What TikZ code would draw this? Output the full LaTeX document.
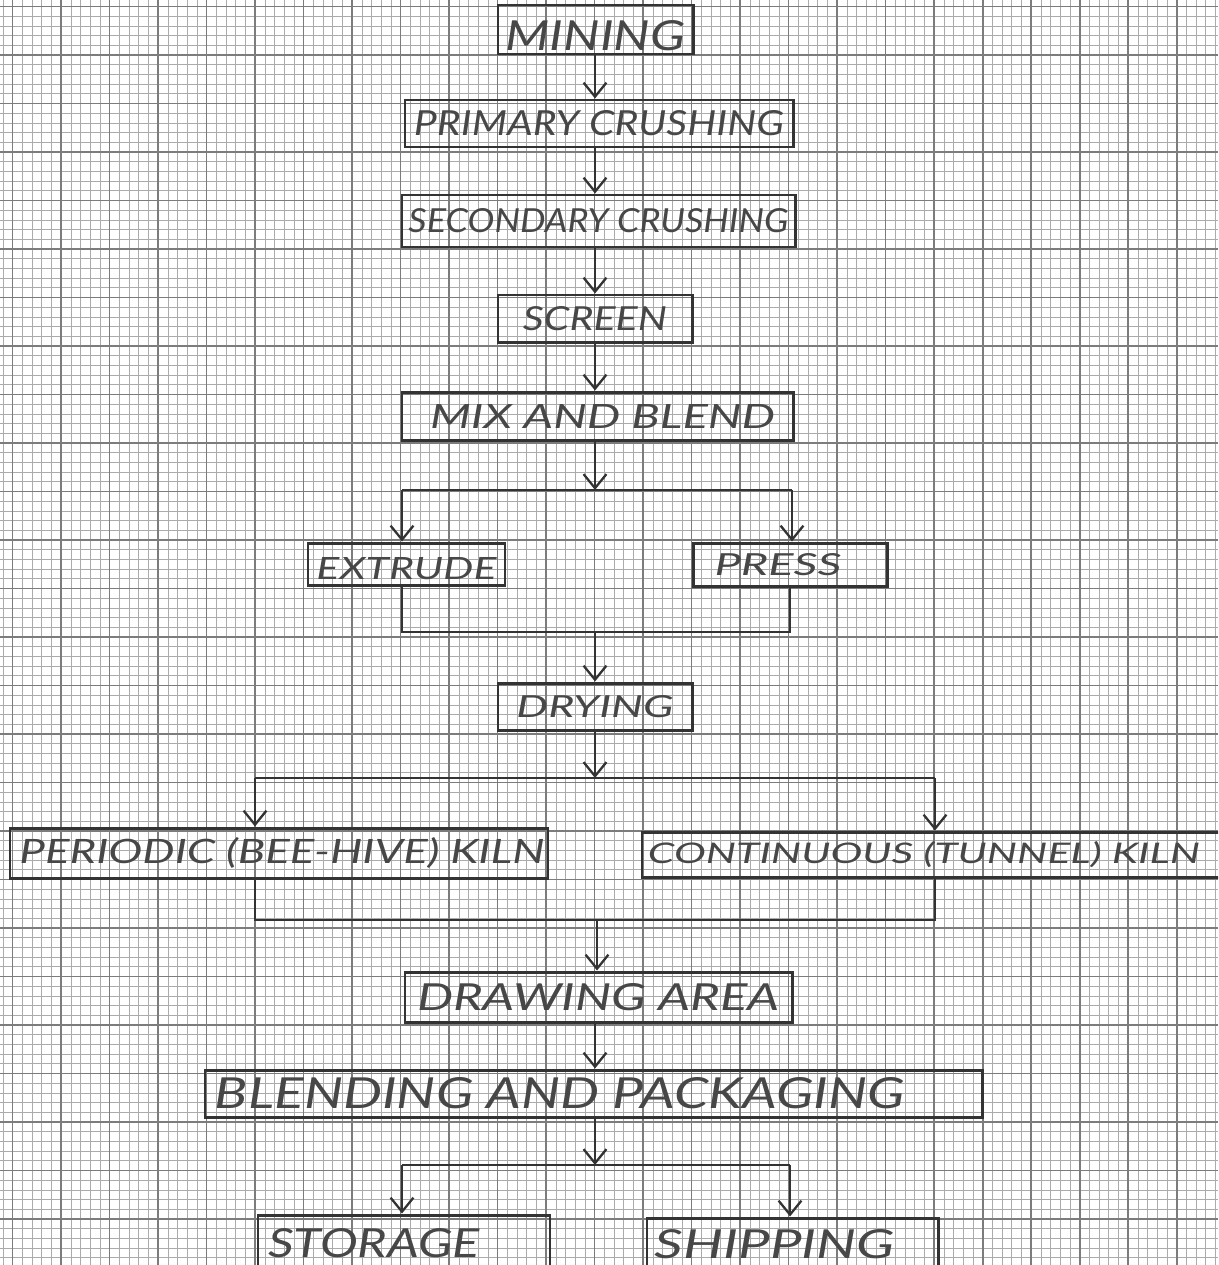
\documentclass[tikz,border=0pt]{standalone}
\usepackage{fontspec}
\usepackage{graphicx}
\usepackage{xcolor}
\usepackage{tikz}
\usetikzlibrary{arrows.meta, positioning, calc}
\setmainfont{Lato}

\definecolor{pencil}{HTML}{333333}
\definecolor{gridmajor}{HTML}{7C7C7C}
\definecolor{gridminor}{HTML}{ABABAB}

% one pixel of the sheet
\newlength\pxu
\setlength\pxu{0.02cm}
% hand lettering: width, cap height (px), text
\newcommand{\hand}[3]{\resizebox{#1\pxu}{#2\pxu}{\itshape #3}}

\tikzset{
    box/.style 2 args={draw=pencil, line width=1.7pt, inner sep=0pt, text=pencil!90,
        minimum width=#1*\pxu, minimum height=#2*\pxu},
    flow/.style={draw=pencil, line width=1.3pt, -{Straight Barb[length=8pt, width=13pt]}},
    link/.style={draw=pencil, line width=1.3pt},
    minor/.style={gridminor, line width=0.4pt},
    major/.style={gridmajor, line width=0.9pt},
}

\begin{document}
\begin{tikzpicture}[x=0.02cm, y=-0.02cm]
    \useasboundingbox (0,0) rectangle (1218,1265);
    \clip (0,0) rectangle (1218,1265);
    \fill[white] (0,0) rectangle (1218,1265);

    % graph paper
    \foreach \i in {0,...,125} {
        \draw[minor] ({3.0+9.7*\i},0) -- ({3.0+9.7*\i},1265);
    }
    \foreach \i in {0,...,130} {
        \draw[minor] (0,{6.5+9.7*\i}) -- (1218,{6.5+9.7*\i});
    }
    \foreach \i in {0,...,25} {
        \draw[major] ({12.7+48.5*\i},0) -- ({12.7+48.5*\i},1265);
        \draw[major] (0,{6.5+48.5*\i}) -- (1218,{6.5+48.5*\i});
    }

    % process steps
    \node[box={195}{49}] (mining) at (595.5,29.5) {\raisebox{-6\pxu}[30\pxu][0pt]{\hand{180}{30}{MINING}}};
    \node[box={388}{47}] (primary) at (599,123.5) {\hand{370}{25}{PRIMARY CRUSHING}};
    \node[box={393}{52}] (secondary) at (598.5,221) {\hand{380}{24}{SECONDARY CRUSHING}};
    \node[box={194}{47}] (screen) at (595,318.5) {\hand{144}{24}{SCREEN}};
    \node[box={391}{48}] (mix) at (597.5,416) {\kern10\pxu\hand{345}{24}{MIX AND BLEND}};
    \node[box={197}{42}] (extrude) at (406.5,564) {\raisebox{-4\pxu}[22\pxu][0pt]{\hand{180}{22}{EXTRUDE}}};
    \node[box={194}{43}] (press) at (790,564.5) {\hand{127}{22}{PRESS}\kern24\pxu};
    \node[box={194}{47}] (drying) at (595,706.5) {\hand{157}{22}{DRYING}};
    \node[box={538}{50}] (periodic) at (279,853) {\kern6\pxu\hand{525}{26}{PERIODIC (BEE-HIVE) KILN}};
    \node[box={598}{45}] (continuous) at (941,854.5) {\hand{552}{22}{CONTINUOUS (TUNNEL) KILN}\kern34\pxu};
    \node[box={387}{50}] (drawing) at (598.5,997) {\hand{363}{27}{DRAWING AREA}};
    \node[box={777}{47}] (blending) at (593.5,1093.5) {\hand{690}{31}{BLENDING AND PACKAGING}\kern67\pxu};
    \node[box={292}{56}] (storage) at (404,1243) {\hand{212}{29}{STORAGE}\kern60\pxu};
    \node[box={291}{53}] (shipping) at (792.5,1244.5) {\hand{240}{29}{SHIPPING}\kern35\pxu};

    % branch and join points
    \coordinate (s1m) at (595,490);
    \coordinate (s1l) at (402,490);
    \coordinate (s1r) at (792,490);
    \coordinate (j1l) at (402,632);
    \coordinate (j1r) at (790,632);
    \coordinate (j1m) at (595,632);
    \coordinate (s2m) at (595,778);
    \coordinate (s2l) at (255,778);
    \coordinate (s2r) at (935,778);
    \coordinate (j2l) at (255,920);
    \coordinate (j2r) at (935,920);
    \coordinate (j2m) at (597,920);
    \coordinate (s3m) at (595,1165);
    \coordinate (s3l) at (402,1165);
    \coordinate (s3r) at (790,1165);

    % straight run
    \draw[flow] (mining.south -| s1m) -- (primary.north -| s1m);
    \draw[flow] (primary.south -| s1m) -- (secondary.north -| s1m);
    \draw[flow] (secondary.south -| s1m) -- (screen.north -| s1m);
    \draw[flow] (screen.south -| s1m) -- (mix.north -| s1m);
    \draw[flow] (mix.south -| s1m) -- (s1m);

    % extrude / press
    \draw[link] (s1l) -- (s1r);
    \draw[flow] (s1l) -- (extrude.north -| s1l);
    \draw[flow] (s1r) -- (press.north -| s1r);
    \draw[link] (extrude.south -| j1l) -- (j1l) -- (j1r) -- (press.south -| j1r);
    \draw[flow] (j1m) -- (drying.north -| j1m);

    % kilns
    \draw[flow] (drying.south -| s2m) -- (s2m);
    \draw[link] (s2l) -- (s2r);
    \draw[flow] (s2l) -- (periodic.north -| s2l);
    \draw[flow] (s2r) -- (continuous.north -| s2r);
    \draw[link] (periodic.south -| j2l) -- (j2l) -- (j2r) -- (continuous.south -| j2r);
    \draw[flow] (j2m) -- (drawing.north -| j2m);

    % finishing
    \draw[flow] (drawing.south -| s3m) -- (blending.north -| s3m);
    \draw[flow] (blending.south -| s3m) -- (s3m);
    \draw[link] (s3l) -- (s3r);
    \draw[flow] (s3l) -- (storage.north -| s3l);
    \draw[flow] (s3r) -- (shipping.north -| s3r);
\end{tikzpicture}
\end{document}
